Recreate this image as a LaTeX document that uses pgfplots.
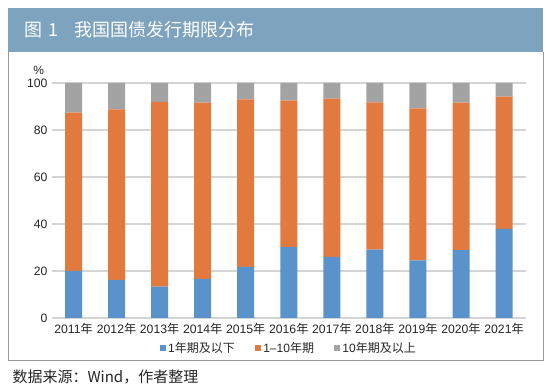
\documentclass[border=0pt]{standalone}
\usepackage{pgfplots}
\pgfplotsset{compat=1.18}
\usepackage{fontspec}
\setmainfont{Liberation Sans}
\newfontfamily\cjk{Noto Sans CJK SC}
\newcommand\nian{{\cjk 年}}
\definecolor{cblue}{HTML}{5A93CC}
\definecolor{corange}{HTML}{E27A3F}
\definecolor{cgray}{HTML}{A3A3A3}
\definecolor{band}{HTML}{7DA3BE}
\definecolor{gridc}{HTML}{D4D4D4}
\pgfplotstableread{
x  short  mid   long
0  20.1   67.3  12.6
1  16.2   72.6  11.2
2  13.3   78.7  8.0
3  16.6   75.0  8.4
4  21.8   71.2  7.0
5  30.3   62.2  7.5
6  26.0   67.3  6.7
7  29.1   62.7  8.2
8  24.5   64.7  10.8
9  28.9   62.7  8.4
10 37.9   56.3  5.8
}\datatable
\begin{document}
\begin{tikzpicture}
\useasboundingbox (0pt,0pt) rectangle (550pt,390pt);
\fill[white] (0pt,0pt) rectangle (550pt,390pt);
\fill[band] (8pt,382pt) rectangle (543pt,338pt);
\node[anchor=west,text=white,font=\cjk\fontsize{18}{20}\selectfont] at (21pt,360pt) {图\,\,1\hspace{16pt}我国国债发行期限分布};
\draw[gray!80,line width=0.8pt] (8pt,338pt) -- (8pt,30pt) -- (543pt,30pt) -- (543pt,338pt);
\node[anchor=base west,font=\cjk\fontsize{15}{17}\selectfont,text=black!85] at (9pt,7pt) {数据来源：Wind，作者整理};
\begin{axis}[
  at={(52pt,72pt)}, anchor=south west,
  scale only axis, width=473.6pt, height=235pt,
  ybar stacked, bar width=17pt,
  xmin=-0.5, xmax=10.5, ymin=0, ymax=100,
  ytick={0,20,...,100},
  xtick=data,
  xticklabels={2011\nian,2012\nian,2013\nian,2014\nian,2015\nian,2016\nian,2017\nian,2018\nian,2019\nian,2020\nian,2021\nian},
  ymajorgrids, grid style={gridc,line width=1.2pt},
  axis line style={draw=none},
  major tick style={draw=none},
  /pgf/number format/assume math mode=true,
  tick label style={font=\fontsize{12.2}{14}\selectfont,text=black!85},
  yticklabel style={xshift=-1pt},
  xticklabel style={yshift=-2pt},
  legend style={at={(0.5,-0.128)},anchor=center,draw=none,fill=none,
    legend columns=3,font=\fontsize{12}{14}\selectfont,text=black!85,
    /tikz/every even column/.append style={column sep=18pt}},
  legend image code/.code={\fill[#1] (0pt,-3.2pt) rectangle (6.4pt,3.2pt);},
  clip=false,
]
\addplot[fill=cblue,draw=none] table[x=x,y=short]{\datatable};
\addplot[fill=corange,draw=none] table[x=x,y=mid]{\datatable};
\addplot[fill=cgray,draw=none] table[x=x,y=long]{\datatable};
\legend{1\nian{\cjk 期及以下},1–10\nian{\cjk 期},10\nian{\cjk 期及以上}}
\node[font=\fontsize{12}{14}\selectfont,text=black!85] at (rel axis cs:-0.028,1.055) {\%};
\end{axis}
\end{tikzpicture}
\end{document}
